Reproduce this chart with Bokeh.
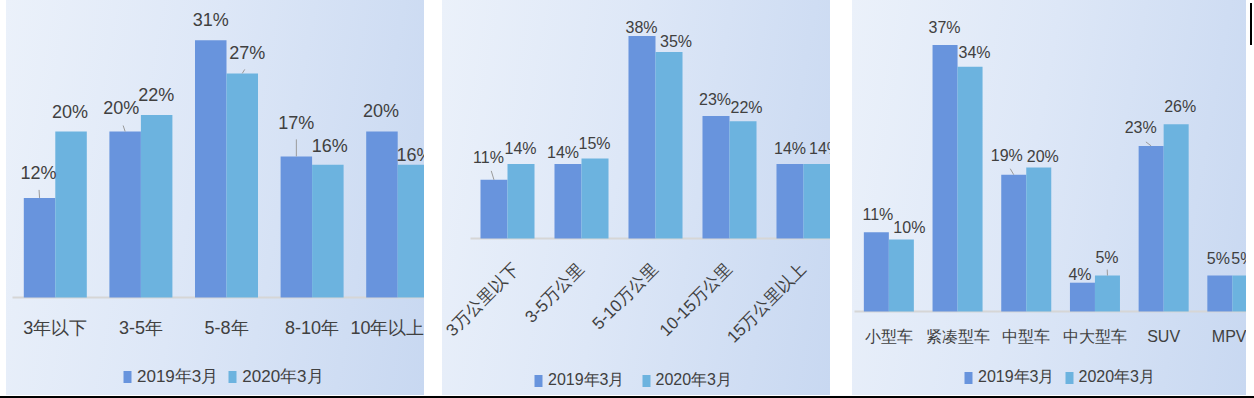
import math
from bokeh.plotting import figure
from bokeh.models import (ColumnDataSource, Legend, LegendItem, FixedTicker, Range1d, Div)
from bokeh.layouts import row, column
from bokeh.embed import file_html
from bokeh.resources import INLINE
from bokeh.core.properties import value

# ---------------- data ----------------
series_names = ["2019年3月", "2020年3月"]

age_cats = ["3年以下", "3-5年", "5-8年", "8-10年", "10年以上"]
age_2019 = [12, 20, 31, 17, 20]
age_2020 = [20, 22, 27, 16, 16]

mile_cats = ["3万公里以下", "3-5万公里", "5-10万公里", "10-15万公里", "15万公里以上"]
mile_2019 = [11, 14, 38, 23, 14]
mile_2020 = [14, 15, 35, 22, 14]

type_cats = ["小型车", "紧凑型车", "中型车", "中大型车", "SUV", "MPV"]
type_2019 = [11, 37, 19, 4, 23, 5]
type_2020 = [10, 34, 20, 5, 26, 5]

# ---------------- style ----------------
C1 = "#6894dd"
C2 = "#6cb3df"
TXT = "#404040"
FONT = "Liberation Sans"
H = 395

# label offsets (px): (dx, dy above bar top), leader lengths (px)
age_off1 = [(-1, 25), (-4, 24), (0, 20), (0, 33), (-1, 21)]
age_off2 = [(-1, 20), (-0.5, 20), (5, 20), (2, 19), (1, 10)]
age_lead1 = [8, 6, 0, 17, 0]
age_lead2 = [0, 0, 4, 0, 0]

mile_off1 = [(-5.5, 22), (-5, 11), (-0.5, 8), (-1, 16), (0, 15)]
mile_off2 = [(-0.5, 15), (-0.5, 15), (7, 10), (3.5, 14), (8, 15)]
mile_lead1 = [9, 0, 0, 0, 0]
mile_lead2 = [0, 0, 0, 0, 0]

type_off1 = [(1.5, 18), (-0.5, 18), (-7, 19), (-2.5, 8), (-10.5, 18), (-1.5, 17)]
type_off2 = [(8, 12), (4.5, 14), (4, 11), (-0.5, 18), (4, 18), (-2, 17)]
type_lead1 = [0, 0, 6, 0, 4, 0]
type_lead2 = [0, 0, 0, 6, 0, 0]


def panel(cats, s1, s2, *, width, left, baseline, ppu, spacing, barw,
          off1, off2, lead1, lead2, label_size, tick_size, legend_size,
          angle, standoff, leg_x, leg_bottom, leg_spacing, margin):
    x_start = -0.5 - left / spacing
    x_end = x_start + width / spacing
    p = figure(width=width, height=H, output_backend="svg", toolbar_location=None,
               x_range=Range1d(x_start, x_end),
               y_range=Range1d(-(H - baseline) / ppu, baseline / ppu),
               y_axis_location=None, min_border_left=0, min_border_right=0,
               min_border_top=0, min_border_bottom=0)
    p.frame_align = False
    p.margin = margin
    p.background_fill_alpha = 0
    p.border_fill_alpha = 0
    p.outline_line_color = None
    p.grid.visible = False
    p.styles = {"background": "linear-gradient(100deg, #ebf1fa 0%, #dde7f7 45%, #c8d8f1 100%)"}

    n = len(cats)
    xs = list(range(n))

    # category baseline (starts at the first category's left edge)
    p.segment(x0=[-0.5], y0=[0], x1=[x_end], y1=[0], line_color="#d6d6d6", line_width=2)

    src1 = ColumnDataSource(dict(x=[i - barw / 2 for i in xs], top=s1))
    src2 = ColumnDataSource(dict(x=[i + barw / 2 for i in xs], top=s2))
    r1 = p.vbar(x="x", top="top", bottom=0, width=barw, source=src1, fill_color=C1, line_color=None)
    r2 = p.vbar(x="x", top="top", bottom=0, width=barw, source=src2, fill_color=C2, line_color=None)

    # leader lines
    for s, off, lead, sign in ((s1, off1, lead1, -1), (s2, off2, lead2, 1)):
        x0, y0, x1, y1 = [], [], [], []
        for i, v in enumerate(s):
            if lead[i] > 0:
                bx = i + sign * barw / 2
                x0.append(bx)
                y0.append(v)
                x1.append(bx + off[i][0] * 0.5 / spacing)
                y1.append(v + lead[i] / ppu)
        if x0:
            p.segment(x0=x0, y0=y0, x1=x1, y1=y1, line_color="#9a9a9a", line_width=1)

    # data labels
    for s, off, sign in ((s1, off1, -1), (s2, off2, 1)):
        lsrc = ColumnDataSource(dict(
            x=[i + sign * barw / 2 for i in xs], y=s,
            text=[f"{v}%" for v in s],
            dx=[o[0] for o in off], dy=[-o[1] for o in off]))
        p.text(x="x", y="y", text="text", x_offset="dx", y_offset="dy", source=lsrc,
               text_align="center", text_baseline="middle", text_color=TXT,
               text_font=value(FONT), text_font_size=f"{label_size}px")

    ax = p.xaxis[0]
    ax.fixed_location = 0
    ax.ticker = FixedTicker(ticks=xs)
    ax.major_label_overrides = {i: c for i, c in enumerate(cats)}
    ax.major_tick_line_color = None
    ax.major_tick_in = 0
    ax.major_tick_out = 0
    ax.minor_tick_line_color = None
    ax.axis_line_color = None
    ax.major_label_text_color = TXT
    ax.major_label_text_font = FONT
    ax.major_label_text_font_size = f"{tick_size}px"
    ax.major_label_standoff = standoff
    if angle:
        ax.major_label_orientation = angle

    legend = Legend(items=[LegendItem(label=series_names[0], renderers=[r1]),
                           LegendItem(label=series_names[1], renderers=[r2])],
                    location=(leg_x + left, H - leg_bottom),
                    orientation="horizontal", padding=0, margin=0,
                    spacing=leg_spacing, label_standoff=5,
                    glyph_width=10, glyph_height=15, label_height=20,
                    label_text_font=FONT, label_text_color=TXT,
                    label_text_font_size=f"{legend_size}px",
                    background_fill_alpha=0, border_line_alpha=0)
    p.add_layout(legend)
    return p


p1 = panel(age_cats, age_2019, age_2020, width=418, left=6, baseline=297, ppu=8.3,
           spacing=85.6, barw=0.368, off1=age_off1, off2=age_off2,
           lead1=age_lead1, lead2=age_lead2, label_size=18, tick_size=18,
           legend_size=17, angle=None, standoff=20, leg_x=110, leg_bottom=388,
           leg_spacing=9, margin=(0, 18, 0, 6))
p2 = panel(mile_cats, mile_2019, mile_2020, width=388, left=28, baseline=238, ppu=5.33,
           spacing=74, barw=0.365, off1=mile_off1, off2=mile_off2,
           lead1=mile_lead1, lead2=mile_lead2, label_size=16, tick_size=17,
           legend_size=16, angle=math.pi / 4, standoff=28, leg_x=63, leg_bottom=391,
           leg_spacing=16, margin=(0, 22, 0, 0))
p3 = panel(type_cats, type_2019, type_2020, width=394, left=2, baseline=311, ppu=7.2,
           spacing=68.7, barw=0.364, off1=type_off1, off2=type_off2,
           lead1=type_lead1, lead2=type_lead2, label_size=16, tick_size=16,
           legend_size=16, angle=None, standoff=16, leg_x=109, leg_bottom=388,
           leg_spacing=9, margin=(0, 0, 0, 0))

vmark = Div(width=2, height=42, styles={"background-color": "black"}, margin=(3, 0, 0, 4))
hline = Div(width=1254, height=2, styles={"background-color": "black"}, margin=(1, 0, 0, 0))

layout = column(row(p1, p2, p3, vmark, spacing=0), hline, spacing=0)
open("out.html", "w").write(file_html(layout, INLINE))
